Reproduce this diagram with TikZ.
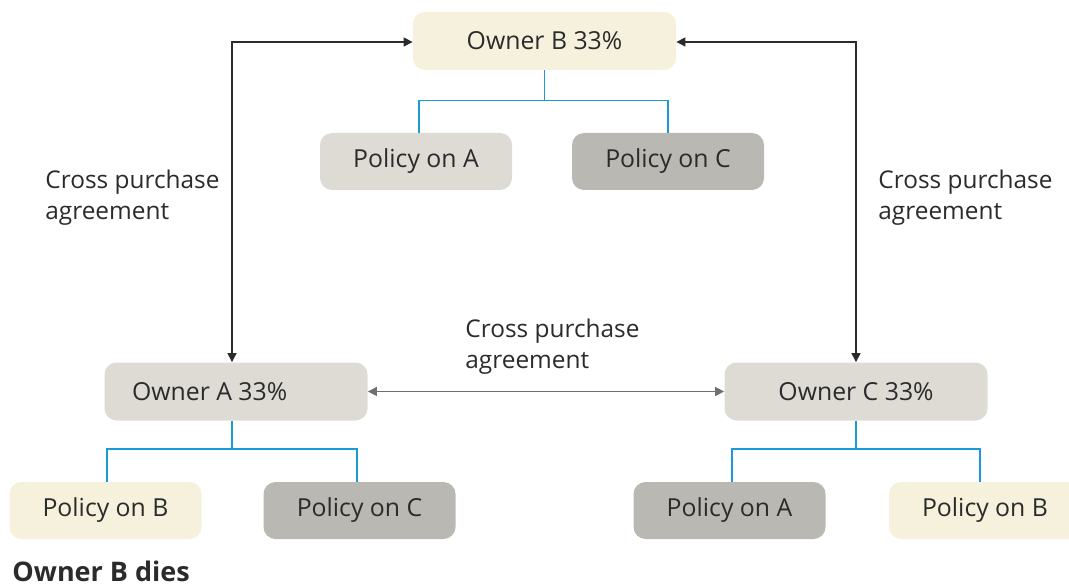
\documentclass[tikz,border=0pt]{standalone}
\usepackage{fontspec}
\setmainfont{Open Sans}
\usetikzlibrary{arrows.meta}

\definecolor{cream}{HTML}{F5F1DC}
\definecolor{lightgrey}{HTML}{DDDBD4}
\definecolor{darkgrey}{HTML}{B9B8B3}
\definecolor{treeblue}{HTML}{1A9AD6}
\definecolor{inkgrey}{HTML}{2B2B2B}
\definecolor{midgrey}{HTML}{6F6F6F}

\tikzset{
  box/.style={rounded corners=6pt, inner sep=0pt, text=inkgrey,
    font=\fontsize{12.4}{15}\selectfont},
  owner/.style={box, minimum width=131.5pt, minimum height=29pt},
  policy/.style={box, minimum width=96pt, minimum height=28.5pt},
  branch/.style={treeblue, line width=0.6pt},
  deal/.style={inkgrey, line width=0.6pt, {Triangle[length=4.5pt,width=4.5pt]}-{Triangle[length=4.5pt,width=4.5pt]}},
  note/.style={text=inkgrey, align=left, inner sep=0pt,
    font=\fontsize{12.2}{15.5}\selectfont}
}

\begin{document}
\begin{tikzpicture}[x=0.5pt, y=-0.5pt]

\useasboundingbox (0,0) rectangle (1069,587);

\node (ownerB) at (544.5,41) [owner, fill=cream] {Owner B 33\%};

\node (polBA) at (416,161.5) [policy, fill=lightgrey] {Policy on A};

\node (polBC) at (668,161.5) [policy, fill=darkgrey] {Policy on C};

\node (ownerA) at (236,391.5) [owner, fill=lightgrey, text width=104pt, align=flush left] {Owner A 33\%};

\node (ownerC) at (856,391.5) [owner, fill=lightgrey] {Owner C 33\%};

\node (polAB) at (105.5,510.5) [policy, fill=cream] {Policy on B};

\node (polAC) at (359.5,510.5) [policy, fill=darkgrey] {Policy on C};

\node (polCA) at (729.5,510.5) [policy, fill=darkgrey] {Policy on A};

\node (polCB) at (985,510.5) [policy, fill=cream] {Policy on B};

\draw [branch] (ownerB.south) -- ++(0,30) -| (polBA.north -| 419,0);
\draw [branch] (ownerB.south) -- ++(0,30) -| (polBC.north);

\draw [branch] (ownerA.south -| 232,0) -- ++(0,28) -| (polAB.north -| 107,0);
\draw [branch] (ownerA.south -| 232,0) -- ++(0,28) -| (polAC.north -| 357,0);

\draw [branch] (ownerC.south) -- ++(0,28) -| (polCA.north -| 732,0);
\draw [branch] (ownerC.south) -- ++(0,28) -| (polCB.north -| 980,0);

\coordinate (cornerL) at (232,42);
\coordinate (cornerR) at (856,42);

\draw [deal] (ownerB.west |- cornerL) -- (cornerL) -- (ownerA.north -| cornerL);

\draw [deal] (ownerB.east |- cornerR) -- (cornerR) -- (ownerC.north);

\draw [deal, midgrey, line width=0.8pt] (ownerA.east) -- (ownerC.west);

\node (dealL) at (45,198) [note, anchor=west] {Cross purchase\\agreement};

\node (dealR) at (878,198) [note, anchor=west] {Cross purchase\\agreement};

\node (dealM) at (465,347) [note, anchor=west] {Cross purchase\\agreement};

\node (title) at (12,571) [anchor=west, inner sep=0pt, text=inkgrey,
  font=\fontsize{13.5}{15}\selectfont\bfseries] {Owner B dies};

\end{tikzpicture}
\end{document}
